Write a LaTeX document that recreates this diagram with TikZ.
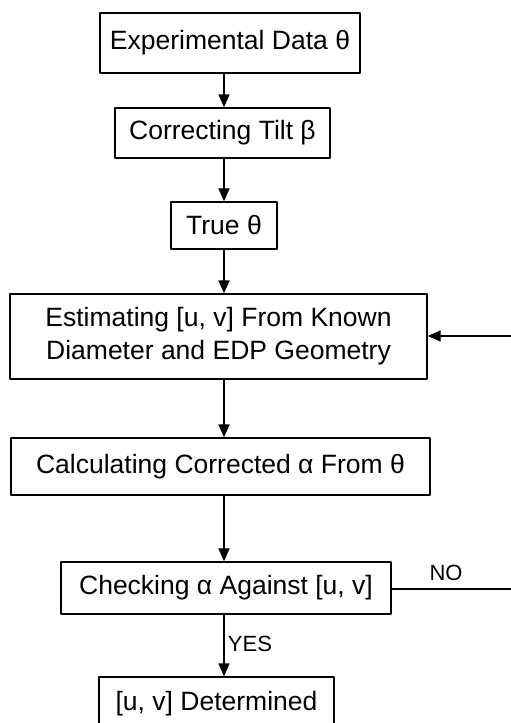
\documentclass[tikz,border=0pt]{standalone}
\usepackage{fontspec}
\setmainfont{Liberation Sans}
\usetikzlibrary{arrows.meta}
\begin{document}
\begin{tikzpicture}[x=1pt,y=-1pt,line cap=round,line join=round,font=\fontsize{26.5}{33}\selectfont,
  box/.style={draw,line width=1.3pt,inner sep=0pt,align=center},
  arr/.style={line width=1.3pt,-{Triangle[length=13pt,width=11pt]}},
  lbl/.style={font=\fontsize{22}{26}\selectfont,inner sep=0pt}]
  \clip (0,0) rectangle (511,723);
  \coordinate (axis) at (224,0);
  \node[box,minimum width=260,minimum height=60](data) at (230,43){Experimental Data θ};
  \node[box,minimum width=215,minimum height=50](tilt) at (222.5,133){Correcting Tilt β};
  \node[box,minimum width=106,minimum height=47](true) at (224,225.5){True θ};
  \node[box,minimum width=417,minimum height=85](est) at (218.5,336.5){Estimating [u, v] From Known\\Diameter and EDP Geometry};
  \node[box,minimum width=419,minimum height=57](calc) at (220.5,466.5){Calculating Corrected α From θ};
  \node[box,minimum width=330,minimum height=52](check) at (226,588){Checking α Against [u, v]};
  \node[box,minimum width=235,minimum height=53](done) at (216.5,703.5){[u, v] Determined};
  \coordinate (noend) at (511,589);
  \coordinate (back) at (511,336);
  \foreach \a/\b in {data/tilt,tilt/true,true/est,est/calc,calc/check,check/done}
    \draw[arr](\a.south -| axis)--(\b.north -| axis);
  \draw[line width=1.3pt](check.east |- noend)--(noend);
  \draw[arr](back)--(est.east |- back);
  \node[lbl](no) at (446,573){NO};
  \node[lbl](yes) at (250,643.5){YES};
\end{tikzpicture}
\end{document}
